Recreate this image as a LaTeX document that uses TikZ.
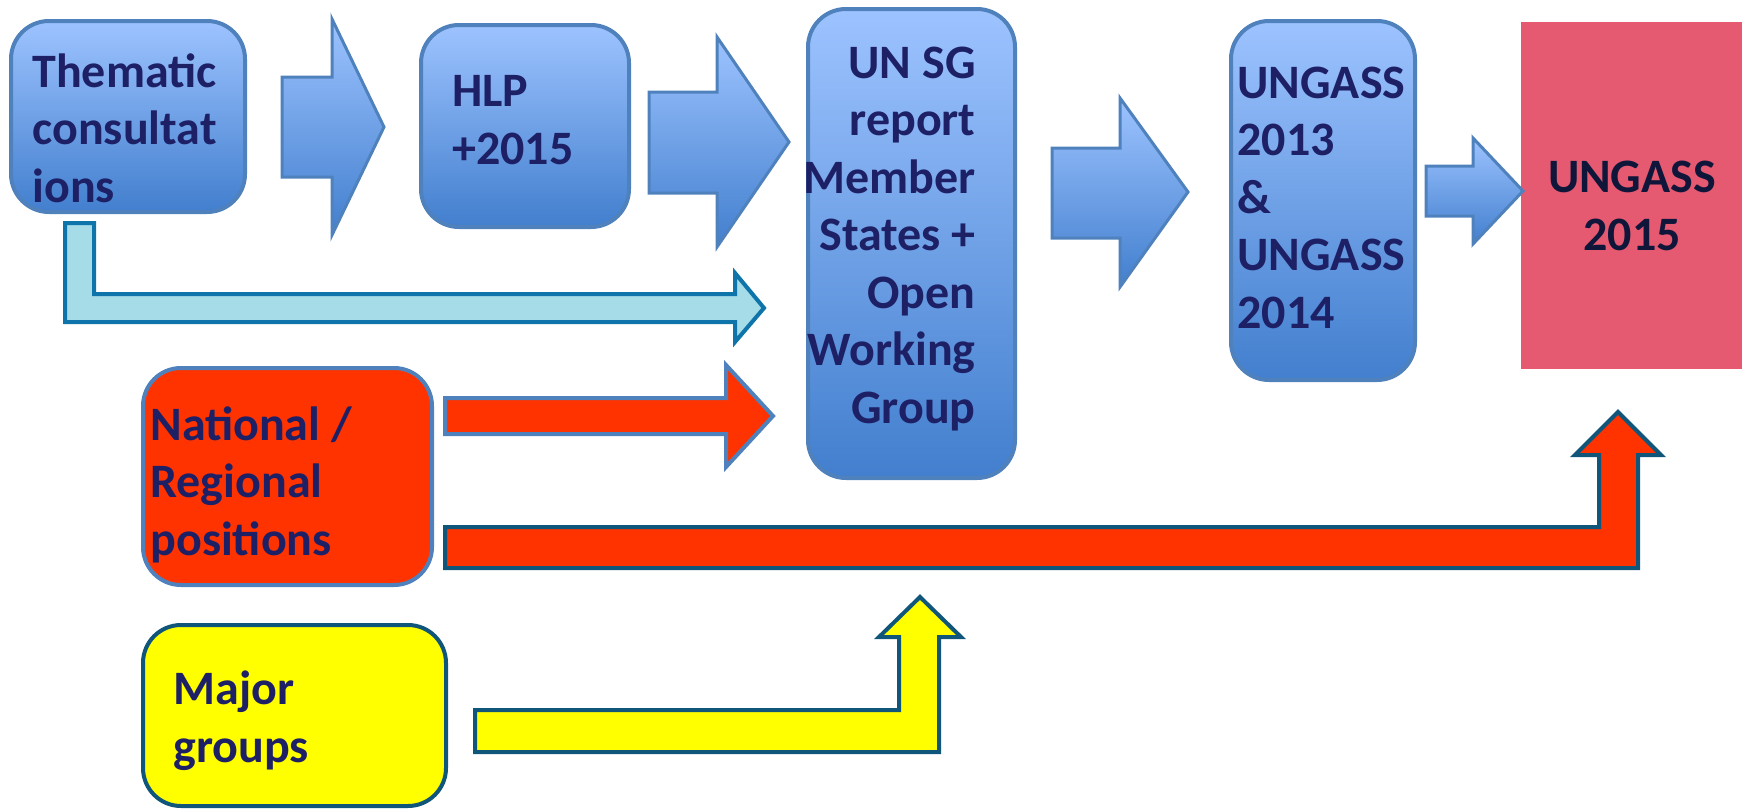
\documentclass[tikz,border=0pt]{standalone}
\usepackage{fontspec}
\setmainfont{Carlito}
\usepackage{tikz}
\definecolor{boxTop}{RGB}{157,195,255}
\definecolor{boxBottom}{RGB}{66,127,206}
\definecolor{boxBorder}{RGB}{79,129,189}
\definecolor{textNavy}{RGB}{30,32,102}
\definecolor{darkNavy}{RGB}{16,22,58}
\definecolor{lightCyan}{RGB}{165,220,232}
\definecolor{cyanBorder}{RGB}{14,116,170}
\definecolor{darkTeal}{RGB}{16,86,122}
\definecolor{alertRed}{RGB}{255,51,0}
\definecolor{pinkRed}{RGB}{229,90,113}
\definecolor{brightYellow}{RGB}{255,255,0}

\begin{document}
\begin{tikzpicture}[x=0.5pt, y=-0.5pt,
    box/.style={rectangle, rounded corners=19pt, line width=2pt, inner sep=0pt},
    blueBox/.style={box, draw=boxBorder, top color=boxTop, bottom color=boxBottom},
    blockArrow/.style={draw=boxBorder, line width=1.5pt, top color=boxTop, bottom color=boxBottom},
    flowArrow/.style={line width=2pt, line join=miter},
    txt/.style={font=\bfseries\fontsize{24}{28.75}\selectfont, text=textNavy, inner sep=0pt}]
    \useasboundingbox (0,0) rectangle (1742,809);

    % Boxes
    \node[blueBox, minimum width=117pt, minimum height=95.5pt] (them) at (128,116.5) {};
    \node[blueBox, minimum width=104pt, minimum height=101pt] (hlp) at (525,126) {};
    \node[blueBox, minimum width=103.5pt, minimum height=234.5pt] (unsg) at (911.5,243.5) {};
    \node[blueBox, minimum width=92pt, minimum height=179.5pt] (ungA) at (1323,200.5) {};
    \node[rectangle, fill=pinkRed, minimum width=110.5pt, minimum height=173.5pt, inner sep=0pt] (ungB) at (1631.5,195.5) {};
    \node[box, draw=boxBorder, fill=alertRed, minimum width=144.5pt, minimum height=108.5pt] (natl) at (287.5,476.5) {};
    \node[box, draw=darkTeal, fill=brightYellow, minimum width=151.5pt, minimum height=90.5pt] (major) at (294.5,715.5) {};

    % Block arrows between the top boxes
    \draw[blockArrow] (282,77) -- (332,77) -- (332,19) -- (384,127) -- (332,235) -- (332,177) -- (282,177) -- cycle;
    \draw[blockArrow] (649,92) -- (717,92) -- (717,37) -- (789,142) -- (717,247) -- (717,193) -- (649,193) -- cycle;
    \draw[blockArrow] (1052,148) -- (1120,148) -- (1120,98) -- (1188,192) -- (1120,287) -- (1120,238) -- (1052,238) -- cycle;
    \draw[blockArrow] (1426,166) -- (1473,166) -- (1473,138) -- (1523,191) -- (1473,244) -- (1473,216) -- (1426,216) -- cycle;

    % Side inputs
    \coordinate (tipThem) at (764,308);
    \coordinate (tipNatl) at (773,416);
    \coordinate (tipLong) at (1618,412);
    \coordinate (tipMajor) at (920,597);
    \draw[flowArrow, draw=cyanBorder, fill=lightCyan] (65,223) -- (94,223) -- (94,294) -- (735,294) -- (735,273) -- (tipThem) -- (735,342) -- (735,322) -- (65,322) -- cycle;
    \draw[flowArrow, draw=boxBorder, fill=alertRed] (445,398) -- (726,398) -- (726,365) -- (tipNatl) -- (726,467) -- (726,434) -- (445,434) -- cycle;
    \draw[flowArrow, draw=darkTeal, fill=alertRed] (445,527) -- (1599,527) -- (1599,455) -- (1575,455) -- (tipLong) -- (1661,455) -- (1638,455) -- (1638,568) -- (445,568) -- cycle;
    \draw[flowArrow, draw=darkTeal, fill=brightYellow] (475,710) -- (899,710) -- (899,637) -- (879,637) -- (tipMajor) -- (961,637) -- (939,637) -- (939,752) -- (475,752) -- cycle;

    % Labels (base = last line)
    \node[txt, align=left, anchor=base west] (themText) at (32,202) {Thematic\\consultat\\ions};
    \node[txt, align=left, anchor=base west] (hlpText) at (452,164) {HLP\\+2015};
    \node[txt, align=right, anchor=base east] (unsgText) at (976,423) {UN SG\\report\\Member\\States +\\Open\\Working\\Group};
    \node[txt, align=left, anchor=base west] (ungAText) at (1237,328) {UNGASS\\2013\\\&\\UNGASS\\2014};
    \node[txt, text=darkNavy, align=center, anchor=base] (ungBText) at (1632,250) {UNGASS\\2015};
    \node[txt, align=left, anchor=base west] (natlText) at (150,555) {National /\\Regional\\positions};
    \node[txt, align=left, anchor=base west] (majorText) at (173,762) {Major\\groups};
\end{tikzpicture}
\end{document}
